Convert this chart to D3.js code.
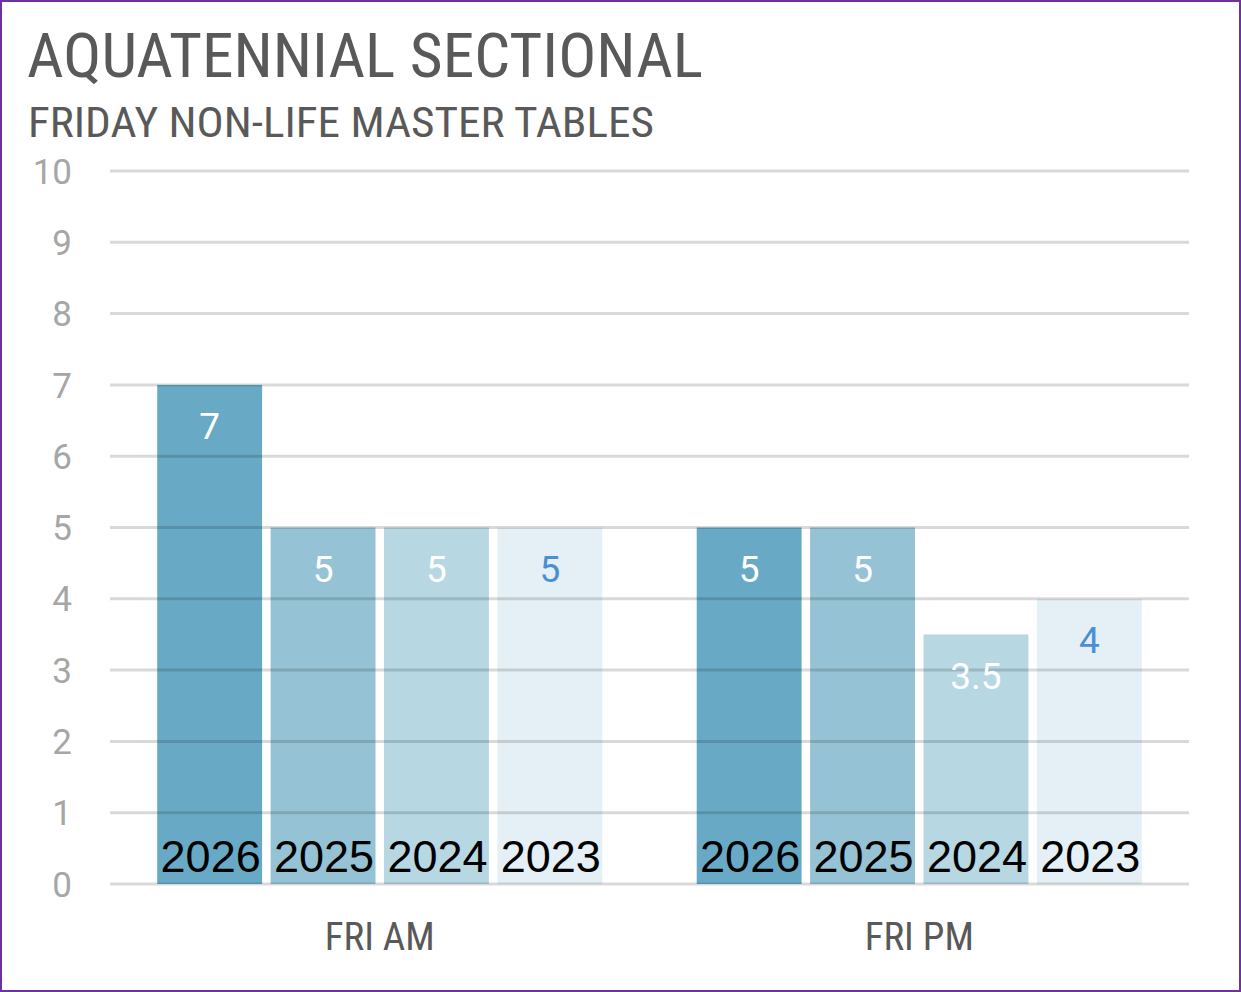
<!DOCTYPE html>
<html><head><meta charset="utf-8">
<script src="https://cdn.jsdelivr.net/npm/d3@7"></script>
<style>
html,body{margin:0;padding:0;background:#fff;}
svg{display:block;}
</style></head>
<body>
<svg id="chart" width="1241" height="992"></svg>
<script>
const categories = ["FRI AM", "FRI PM"];
const years = ["2026", "2025", "2024", "2023"];
const values2026 = [7, 5];
const values2025 = [5, 5];
const values2024 = [5, 3.5];
const values2023 = [5, 4];
const yTicks = [0,1,2,3,4,5,6,7,8,9,10];
const title = "AQUATENNIAL SECTIONAL";
const subtitle = "FRIDAY NON-LIFE MASTER TABLES";

const seriesValues = [values2026, values2025, values2024, values2023];
const colors = ["#68aac5", "#95c3d5", "#b7d7e3", "#e5f0f6"];
const labelColors = ["#ffffff", "#ffffff", "#ffffff", "#4a8fd6"];

const svg = d3.select("#chart");
const W = 1241, H = 992;
const narrow = "'Roboto Condensed','Liberation Sans Narrow','DejaVu Sans Condensed',sans-serif";
const rob = "Roboto,'Liberation Sans',sans-serif";
const reg = "'Liberation Sans',Arial,sans-serif";

svg.append("rect").attr("x",1).attr("y",1).attr("width",W-2).attr("height",H-2)
  .attr("fill","#fff").attr("stroke","#7030a0").attr("stroke-width",2);

svg.append("text").attr("x",27).attr("y",77).text(title)
  .attr("font-family",narrow).attr("font-size",61).attr("fill","#595959")
  .attr("textLength",676).attr("lengthAdjust","spacingAndGlyphs");
svg.append("text").attr("x",28).attr("y",137).text(subtitle)
  .attr("font-family",narrow).attr("font-size",42).attr("fill","#595959")
  .attr("textLength",626).attr("lengthAdjust","spacingAndGlyphs");

const x0 = d3.scaleBand().domain(categories).range([110,1189]).paddingInner(0.175).paddingOuter(0.0875);
const x1 = d3.scaleBand().domain(years).range([0, x0.bandwidth()]).paddingInner(0.075);
const y = d3.scaleLinear().domain([0,10]).range([884,171]);

const g = svg.append("g");
categories.forEach((c,ci)=>{
  years.forEach((yr,si)=>{
    const v = seriesValues[si][ci];
    g.append("rect").attr("x",x0(c)+x1(yr)).attr("y",y(v))
      .attr("width",x1.bandwidth()).attr("height",y(0)-y(v)).attr("fill",colors[si]);
  });
});

// gridlines on top (semi-transparent)
svg.append("g").selectAll("line").data(yTicks).join("line")
  .attr("x1",110).attr("x2",1189).attr("y1",d=>y(d)).attr("y2",d=>y(d))
  .attr("stroke","#000").attr("stroke-opacity",0.15).attr("stroke-width",3);

// y axis labels
svg.append("g").selectAll("text").data(yTicks).join("text")
  .attr("x",72).attr("y",d=>y(d)).attr("dy","0.36em").attr("text-anchor","end")
  .text(d=>d).attr("font-family",rob).attr("font-size",35).attr("fill","#a6a6a6");

// data labels and year labels
categories.forEach((c,ci)=>{
  years.forEach((yr,si)=>{
    const v = seriesValues[si][ci];
    const cx = x0(c)+x1(yr)+x1.bandwidth()/2;
    svg.append("text").attr("x",cx).attr("y",y(v)+41).attr("dy","0.36em")
      .attr("text-anchor","middle").text(v).attr("font-family",rob)
      .attr("font-size",37).attr("fill",labelColors[si]);
    svg.append("text").attr("x",cx+1).attr("y",872)
      .attr("text-anchor","middle").text(yr).attr("font-family",reg)
      .attr("font-size",45).attr("fill","#000");
  });
});

// x axis category labels
svg.append("g").selectAll("text").data(categories).join("text")
  .attr("x",d=>x0(d)+x0.bandwidth()/2).attr("y",950).attr("text-anchor","middle")
  .text(d=>d).attr("font-family",narrow).attr("font-size",39).attr("fill","#595959");
</script>
</body></html>
